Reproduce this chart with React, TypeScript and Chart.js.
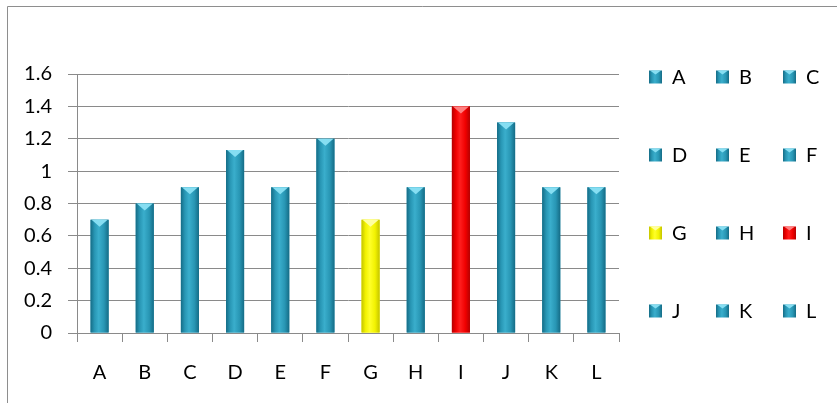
import { useEffect, useRef } from "react";
import { Chart, registerables } from "chart.js";

Chart.register(...registerables);

// Category labels along the x axis (also used for the legend entries)
const categories = ["A", "B", "C", "D", "E", "F", "G", "H", "I", "J", "K", "L"];
// Bar heights
const values = [0.7, 0.8, 0.9, 1.13, 0.9, 1.2, 0.7, 0.9, 1.4, 1.3, 0.9, 0.9];
// Value-axis ticks and their printed labels
const yTicks = [0, 0.2, 0.4, 0.6, 0.8, 1, 1.2, 1.4, 1.6];
const yTickLabels = ["0", "0.2", "0.4", "0.6", "0.8", "1", "1.2", "1.4", "1.6"];

type Tone = { base: string; edge: string; light: string; cap: string };
const TEAL: Tone = { base: "#2896b4", edge: "#156c86", light: "#3aaecc", cap: "#86def2" };
const YELLOW: Tone = { base: "#f2f200", edge: "#c4c400", light: "#ffff2a", cap: "#ffffa0" };
const RED: Tone = { base: "#f00000", edge: "#b40000", light: "#ff1e1e", cap: "#ff8080" };
const toneFor = (c: string): Tone => (c === "G" ? YELLOW : c === "I" ? RED : TEAL);

const FONT = "Lato, 'Open Sans', sans-serif";
const GRID = "#8a8a8a";

// Paint one bevelled column (or legend swatch) into a rectangle
function paintBevel(ctx: CanvasRenderingContext2D, x: number, y: number, w: number, h: number, t: Tone, capH: number) {
  const g = ctx.createLinearGradient(x, 0, x + w, 0);
  g.addColorStop(0, t.edge);
  g.addColorStop(0.22, t.base);
  g.addColorStop(0.45, t.light);
  g.addColorStop(0.75, t.base);
  g.addColorStop(1, t.edge);
  ctx.fillStyle = g;
  ctx.fillRect(x, y, w, h);
  if (h > capH) {
    ctx.beginPath();
    ctx.moveTo(x + 1, y);
    ctx.lineTo(x + w - 1, y);
    ctx.lineTo(x + w / 2, y + capH);
    ctx.closePath();
    ctx.fillStyle = t.cap;
    ctx.fill();
  }
}

const framePlugin = {
  id: "frame",
  beforeDraw(chart: Chart) {
    const ctx = chart.ctx;
    ctx.save();
    ctx.fillStyle = "#ffffff";
    ctx.fillRect(0, 0, chart.width, chart.height);
    ctx.strokeStyle = "#8e8e8e";
    ctx.lineWidth = 1;
    ctx.beginPath();
    ctx.moveTo(7.5, chart.height);
    ctx.lineTo(7.5, 6.5);
    ctx.lineTo(chart.width, 6.5);
    ctx.stroke();
    ctx.restore();
  },
};

const bevelPlugin = {
  id: "bevelBars",
  afterDatasetsDraw(chart: Chart) {
    const ctx = chart.ctx;
    const meta = chart.getDatasetMeta(0);
    ctx.save();
    meta.data.forEach((el: any, i: number) => {
      const { x, y, base, width } = el.getProps(["x", "y", "base", "width"], true);
      const left = x - width / 2;
      paintBevel(ctx, left, y, width, base - y, toneFor(categories[i]), 7);
    });
    ctx.restore();
  },
};

const gridLegendPlugin = {
  id: "gridLegend",
  afterDraw(chart: Chart) {
    const ctx = chart.ctx;
    const area = chart.chartArea;
    const cols = 3;
    const colStep = 67;
    const rowStep = 78;
    const box = 13;
    ctx.save();
    ctx.font = `20px ${FONT}`;
    ctx.textBaseline = "middle";
    ctx.textAlign = "left";
    categories.forEach((c, i) => {
      const col = i % cols;
      const row = Math.floor(i / cols);
      const bx = area.right + 30 + col * colStep;
      const cy = area.top + 3 + row * rowStep;
      paintBevel(ctx, bx, cy - box / 2, box, box, toneFor(c), 4);
      ctx.fillStyle = "#000000";
      ctx.fillText(c, bx + 23, cy + 1);
    });
    ctx.restore();
  },
};

export default function App() {
  const canvasRef = useRef<HTMLCanvasElement | null>(null);

  useEffect(() => {
    if (!canvasRef.current) return;
    const chart = new Chart(canvasRef.current, {
      type: "bar",
      data: {
        labels: categories,
        datasets: [
          {
            label: "Series",
            data: values,
            backgroundColor: categories.map((c) => toneFor(c).base),
            borderWidth: 0,
            barPercentage: 0.4,
            categoryPercentage: 1,
          },
        ],
      },
      options: {
        animation: false,
        responsive: true,
        maintainAspectRatio: false,
        layout: { padding: { top: 74, right: 218, left: 0, bottom: 0 } },
        plugins: { legend: { display: false }, tooltip: { enabled: false } },
        scales: {
          x: {
            grid: {
              offset: true,
              drawOnChartArea: false,
              drawTicks: true,
              tickLength: 9,
              color: GRID,
            },
            border: { color: GRID, width: 1 },
            ticks: {
              color: "#000000",
              font: { family: FONT, size: 20 },
              padding: 19,
              maxRotation: 0,
            },
            afterFit(scale: any) {
              scale.height = 70;
            },
          },
          y: {
            min: 0,
            max: 1.6,
            afterBuildTicks(scale: any) {
              scale.ticks = yTicks.map((v) => ({ value: v }));
            },
            grid: { color: GRID, lineWidth: 1, tickLength: 9, drawTicks: true },
            border: { color: GRID, width: 1 },
            ticks: {
              color: "#000000",
              font: { family: FONT, size: 20 },
              padding: 16,
              callback: (_v: any, idx: number) => yTickLabels[idx],
            },
            afterFit(scale: any) {
              scale.width = 77;
            },
          },
        },
      },
      plugins: [framePlugin, bevelPlugin, gridLegendPlugin],
    });
    return () => chart.destroy();
  }, []);

  return (
    <div style={{ position: "fixed", left: 0, top: 0, width: 837, height: 403, background: "#fff" }}>
      <canvas ref={canvasRef} />
    </div>
  );
}
